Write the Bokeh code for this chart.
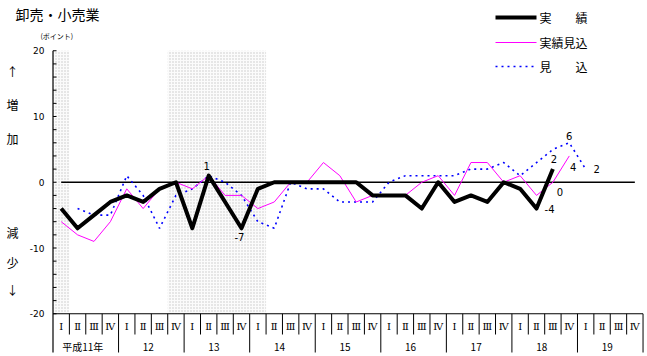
from bokeh.plotting import figure
from bokeh.models import Range1d
from bokeh.core.properties import value
from bokeh.embed import file_html
from bokeh.resources import INLINE

# ---------------- data ----------------
title = "卸売・小売業"
unit_label = "(ポイント)"
quarter_names = ["Ⅰ", "Ⅱ", "Ⅲ", "Ⅳ"]
year_labels = ["平成11年", "12", "13", "14", "15", "16", "17", "18", "19"]
y_ticks = [-20, -10, 0, 10, 20]
y_minor = list(range(-20, 21, 2))
shade_periods = [(0, 1), (7, 13)]  # quarter index spans (recession shading)

actual = [-4, -7, -5, -3, -2, -3, -1, 0, -7, 1, -3, -7, -1, 0, 0, 0, 0, 0, 0,
          -2, -2, -2, -4, 0, -3, -2, -3, 0, -1, -4, 2]
estimate = [-6, -8, -9, -6, -1, -4, -1, 0, -1, 1, -2, -2, -4, -3, 0, 0, 3, 1, -3,
            -2, -2, -2, 0, 1, -2, 3, 3, 0, 1, -2, 0, 4]
forecast = [None, -4, -5, -5, 1, -2, -7, -2, -1, 1, 0, -2, -6, -7, 0, -1, -1, -3,
            -3, -3, 0, 1, 1, 1, 1, 2, 2, 3, 1, 3, 5, 6, 2]
series_names = ["実　　績", "実績見込", "見　　込"]

# labelled points: (series, quarter index, text, x_offset px, y_offset px)
point_labels = [
    ("actual", 9, "1", -2, -10),
    ("actual", 11, "-7", -2, 9),
    ("actual", 29, "-4", 13, 0),
    ("actual", 30, "2", 1, -10),
    ("estimate", 30, "0", 7, 10),
    ("estimate", 31, "4", 4, 11),
    ("forecast", 31, "6", 0, -7),
    ("forecast", 32, "2", 11, 0),
]

# ---------------- layout helpers (pixel -> data) ----------------
W, H = 647, 356
X0, QW = 52.5, 16.39
Y0, YS = 181.75, 6.575


def dx(px):
    return (px - X0) / QW


def dy(py):
    return (Y0 - py) / YS


n_q = len(year_labels) * 4
JP = value("Noto Sans CJK JP")
NUM = value("DejaVu Sans")

p = figure(width=W, height=H, x_range=Range1d(dx(0), dx(W)), y_range=Range1d(dy(H), dy(0)),
           min_border=0, x_axis_type=None, y_axis_type=None, toolbar_location=None,
           output_backend="svg", outline_line_color=None,
           background_fill_color="white", border_fill_color="white")

# shaded periods
p.quad(left=[a for a, b in shade_periods], right=[b for a, b in shade_periods],
       bottom=[y_ticks[0]] * len(shade_periods), top=[y_ticks[-1]] * len(shade_periods),
       fill_color="#fbfbfb", line_color=None,
       hatch_pattern="dot", hatch_color="#c4c4c4", hatch_scale=3, hatch_weight=1)

# y axis line and ticks
p.segment(x0=[0], y0=[y_ticks[-1]], x1=[0], y1=[dy(352)], line_color="black", line_width=1.2)
p.segment(x0=[0] * len(y_minor), y0=y_minor, x1=[3.5 / QW] * len(y_minor), y1=y_minor,
          line_color="black", line_width=1)
p.text(x=[dx(44)] * len(y_ticks), y=y_ticks, text=[str(t) for t in y_ticks],
       text_align="right", text_baseline="middle", text_font=NUM,
       text_font_size="9px", text_color="black")

# bottom axis and category separators
p.segment(x0=[0], y0=[y_ticks[0]], x1=[n_q], y1=[y_ticks[0]], line_color="black", line_width=1.2)
q_sep = [i for i in range(1, n_q) if i % 4 != 0]
y_sep = [i for i in range(4, n_q + 1, 4)]
p.segment(x0=q_sep, y0=[y_ticks[0]] * len(q_sep), x1=q_sep, y1=[dy(334)] * len(q_sep),
          line_color="black", line_width=1)
p.segment(x0=y_sep, y0=[y_ticks[0]] * len(y_sep), x1=y_sep, y1=[dy(352)] * len(y_sep),
          line_color="black", line_width=1)
p.text(x=[i + 0.5 for i in range(n_q)], y=[dy(326)] * n_q,
       text=[quarter_names[i % 4] for i in range(n_q)],
       text_align="center", text_baseline="middle", text_font=value("DejaVu Serif"),
       text_font_size="10px", text_color="black")
p.text(x=[4 * k + 2 for k in range(len(year_labels))], y=[dy(346)] * len(year_labels),
       text=year_labels, x_offset=-3, text_align="center", text_baseline="middle",
       text_font=JP, text_font_size="10px", text_color="black")

# zero line
p.segment(x0=[0.5], y0=[0], x1=[n_q - 0.5], y1=[0], line_color="black", line_width=1.5)

# series
def xs_ys(vals):
    xs = [i + 0.5 for i, v in enumerate(vals) if v is not None]
    ys = [v for v in vals if v is not None]
    return xs, ys


fx, fy = xs_ys(forecast)
ex, ey = xs_ys(estimate)
ax, ay = xs_ys(actual)
p.line(fx, fy, line_color="#0000ff", line_width=1.6, line_dash="2 4")
p.line(ex, ey, line_color="#ff00ff", line_width=1)
p.line(ax, ay, line_color="black", line_width=4, line_join="round")

# point labels
lookup = {"actual": actual, "estimate": estimate, "forecast": forecast}
for s, i, t, ox, oy in point_labels:
    p.text(x=[i + 0.5], y=[lookup[s][i]], text=[t], x_offset=ox, y_offset=oy,
           text_align="center", text_baseline="middle", text_font=NUM,
           text_font_size="10px", text_color="black")

# title, unit, side labels
p.text(x=[dx(15)], y=[dy(13)], text=[title], text_align="left", text_baseline="middle",
       text_font=JP, text_font_size="14px", text_color="black")
p.text(x=[dx(40)], y=[dy(35)], text=[unit_label], text_align="left", text_baseline="middle",
       text_font=JP, text_font_size="7px", text_color="black")
side = ["↑", "増", "加", "減", "少", "↓"]
side_py = [71, 104, 138, 232, 262, 289]
p.text(x=[dx(12)] * len(side), y=[dy(v) for v in side_py], text=side,
       text_align="center", text_baseline="middle", text_font=JP,
       text_font_size="12px", text_color="black")

# legend (drawn)
leg_py = [17, 42, 66]
leg_styles = [dict(line_color="black", line_width=4),
              dict(line_color="#ff00ff", line_width=1),
              dict(line_color="#0000ff", line_width=1.6, line_dash="2 4")]
for py_, st in zip(leg_py, leg_styles):
    p.line([dx(495), dx(536)], [dy(py_), dy(py_)], **st)
p.text(x=[dx(539)] * 3, y=[dy(v) for v in leg_py], text=series_names,
       text_align="left", text_baseline="middle", text_font=JP,
       text_font_size="12px", text_color="black")

open("out.html", "w").write(file_html(p, INLINE))
